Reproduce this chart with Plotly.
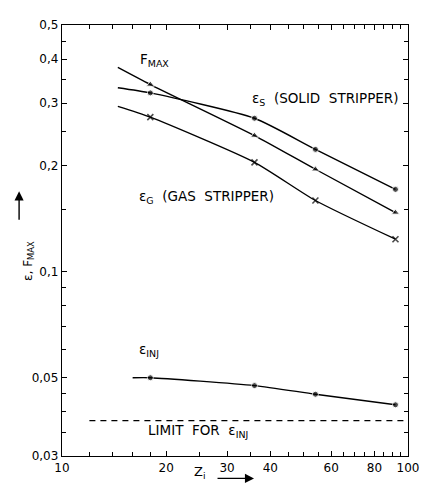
import plotly.graph_objects as go

# ---- data ----
z_curve = [14.5, 18, 36, 54, 92]
eps_solid = [0.332, 0.321, 0.272, 0.222, 0.171]
f_max = [0.379, 0.339, 0.243, 0.195, 0.147]
eps_gas = [0.294, 0.274, 0.204, 0.159, 0.1235]
z_inj = [16, 18, 36, 54, 92]
eps_inj = [0.050, 0.050, 0.0475, 0.0449, 0.0419]
limit_z = [12, 100]
limit_inj = [0.0378, 0.0378]

x_tickvals = [10, 20, 30, 40, 60, 80, 100]
x_ticktext = ["10", "20", "30", "40", "60", "80", "100"]
x_minor = [12, 14, 16, 18, 25, 35, 45, 50, 55, 65, 70, 75, 85, 90, 95]
y_tickvals = [0.03, 0.05, 0.1, 0.2, 0.3, 0.4, 0.5]
y_ticktext = ["0,03", "0,05", "0,1", "0,2", "0,3", "0,4", "0,5"]
y_minor = [0.035, 0.04, 0.045, 0.06, 0.07, 0.08, 0.09, 0.15, 0.25, 0.35, 0.45]

FONT = "DejaVu Sans"
fig = go.Figure()

line = dict(color="black", width=1.4, shape="spline", smoothing=0.6)
fig.add_trace(go.Scatter(x=z_curve, y=eps_solid, mode="lines+markers", line=line,
                         marker=dict(symbol="circle", size=[0, 6, 6, 6, 6], color="black")))
fig.add_trace(go.Scatter(x=z_curve, y=f_max, mode="lines+markers", line=line,
                         marker=dict(symbol="triangle-up", size=[0, 7, 7, 7, 7], color="black")))
fig.add_trace(go.Scatter(x=z_curve, y=eps_gas, mode="lines+markers", line=line,
                         marker=dict(symbol="x-thin", size=[0, 6, 6, 6, 6],
                                     line=dict(color="black", width=1.6), color="black")))
fig.add_trace(go.Scatter(x=z_inj, y=eps_inj, mode="lines+markers", line=line,
                         marker=dict(symbol="circle", size=[0, 6, 6, 6, 6], color="black")))
fig.add_trace(go.Scatter(x=limit_z, y=limit_inj, mode="lines",
                         line=dict(color="black", width=1.2, dash="6px,5px")))

axis_common = dict(type="log", ticks="inside", ticklen=5, tickwidth=1, tickcolor="black",
                   showline=True, linecolor="black", linewidth=1.4, mirror="ticks",
                   showgrid=False, zeroline=False,
                   tickfont=dict(family=FONT, size=12, color="black"))
fig.update_xaxes(range=[1, 2], tickmode="array", tickvals=x_tickvals, ticktext=x_ticktext,
                 minor=dict(tickmode="array", tickvals=x_minor, ticks="inside", ticklen=4,
                            tickcolor="black", showgrid=False),
                 **axis_common)
fig.update_yaxes(range=[-1.5229, -0.30103], tickmode="array", tickvals=y_tickvals,
                 ticktext=y_ticktext,
                 minor=dict(tickmode="array", tickvals=y_minor, ticks="inside", ticklen=4,
                            tickcolor="black", showgrid=False),
                 **axis_common)

tf = dict(family=FONT, size=13.5, color="black")
anns = [
    (1.221, -0.399, "F<sub>MAX</sub>"),
    (1.544, -0.510, "ε<sub>S</sub>  (SOLID  STRIPPER)"),
    (1.218, -0.789, "ε<sub>G</sub>  (GAS  STRIPPER)"),
    (1.218, -1.222, "ε<sub>INJ</sub>"),
    (1.244, -1.453, "LIMIT  FOR  ε<sub>INJ</sub>"),
]
for x, y, t in anns:
    fig.add_annotation(xref="x", yref="y", showarrow=False, font=tf,
                       xanchor="left", yanchor="middle", x=x, y=y, text=t)

# axis titles
fig.add_annotation(xref="paper", yref="paper", x=-0.125, y=0.452, text="ε, F<sub>MAX</sub>",
                   textangle=-90, showarrow=False, font=dict(family=FONT, size=12, color="black"))
fig.add_annotation(xref="paper", yref="paper", x=-0.124, y=0.614, ax=0, ay=30,
                   text="", showarrow=True, arrowhead=2, arrowsize=1.3, arrowwidth=1.4,
                   arrowcolor="black")
fig.add_annotation(xref="paper", yref="paper", x=0.398, y=-0.063, text="Z<sub>i</sub>",
                   showarrow=False, font=dict(family=FONT, size=13, color="black"))
fig.add_annotation(xref="paper", yref="paper", x=0.555, y=-0.052, ax=-38, ay=0,
                   text="", showarrow=True, arrowhead=2, arrowsize=1.3, arrowwidth=1.4,
                   arrowcolor="black")

# page body has an 8px margin, so size/margins compensate to place the plot area at 62..415 x 18..456
fig.update_layout(width=421, height=487, showlegend=False,
                  margin=dict(l=54, r=14, t=10, b=39),
                  paper_bgcolor="white", plot_bgcolor="white")

fig.write_html("out.html")
